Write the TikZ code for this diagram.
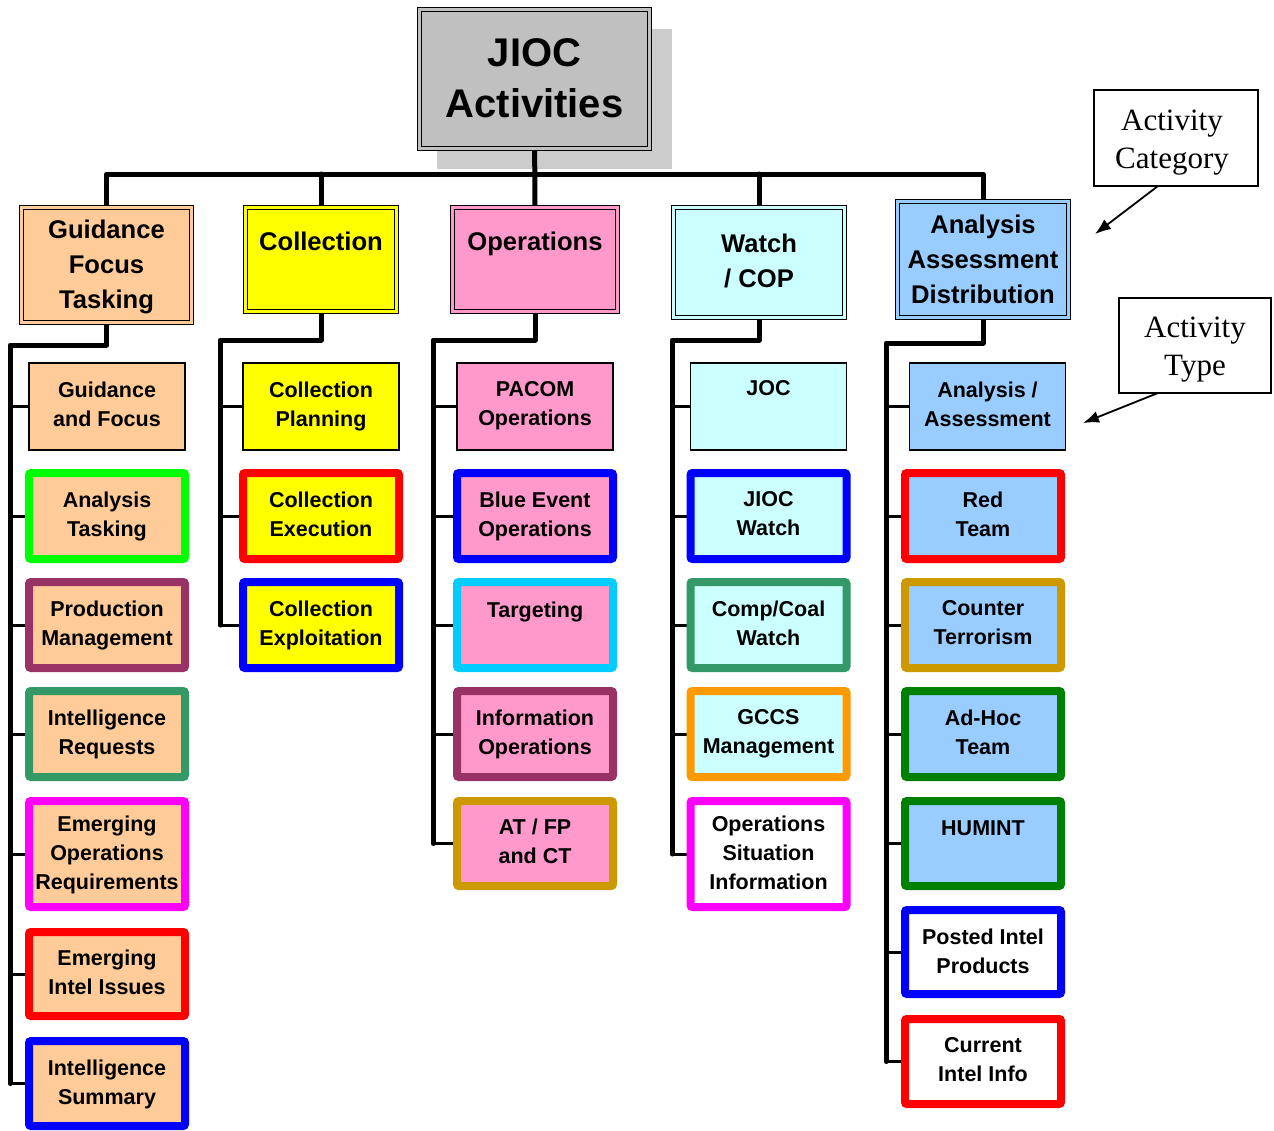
\documentclass[tikz,border=0pt]{standalone}
\usepackage{fontspec}
\setmainfont{Liberation Serif}
\setsansfont{Liberation Sans}
\usetikzlibrary{arrows.meta}
\definecolor{peach}{HTML}{FFCC99}
\definecolor{yel}{HTML}{FFFF00}
\definecolor{pinkf}{HTML}{FF99CC}
\definecolor{cyanl}{HTML}{CCFFFF}
\definecolor{bluel}{HTML}{99CCFF}
\definecolor{topgray}{HTML}{C0C0C0}
\definecolor{shadowgray}{HTML}{CCCCCC}
\definecolor{bgreen}{HTML}{00FF00}
\definecolor{bplum}{HTML}{993366}
\definecolor{bsea}{HTML}{339966}
\definecolor{bmag}{HTML}{FF00FF}
\definecolor{bred}{HTML}{FF0000}
\definecolor{bblue}{HTML}{0000FF}
\definecolor{bsky}{HTML}{00CCFF}
\definecolor{bgold}{HTML}{CC9900}
\definecolor{borange}{HTML}{FF9900}
\definecolor{bdgreen}{HTML}{008000}
\pgfdeclarelayer{bottom}
\pgfdeclarelayer{background}
\pgfsetlayers{bottom,background,main}
\tikzset{
  every node/.style={outer sep=0pt, inner sep=0pt},
  catbox/.style={draw=black, line width=1.2pt, double distance=3pt, rectangle},
  thinbox/.style={draw=black, line width=1.3pt, rectangle},
  thickbox/.style={line width=8pt, rounded corners=2pt, rectangle},
  ktxt/.style={font=\sffamily\bfseries\fontsize{21.5}{29}\selectfont, align=center, anchor=north, execute at begin node=\rule{0pt}{0.8em}},
  ctxt/.style={font=\sffamily\bfseries\fontsize{25.6}{35}\selectfont, align=center, anchor=north, execute at begin node=\rule{0pt}{0.8em}},
  ttxt/.style={font=\sffamily\bfseries\fontsize{40}{51}\selectfont, align=center, anchor=north, execute at begin node=\rule{0pt}{0.8em}},
  callout/.style={draw=black, line width=1.4pt, fill=white},
  otxt/.style={font=\rmfamily\fontsize{31}{38}\selectfont, align=center},
  bus/.style={line width=5pt, line join=round, line cap=round},
  stub/.style={line width=3pt},
  arr/.style={line width=1.8pt, -{Latex[length=16pt,width=12pt]}}
}
\newcommand\kidbox[7]{%
  \node[#5, minimum width=156, minimum height=#4, anchor=north] (#1) at (#2,#3) {};
  \node[ktxt] (#1-t) at ([yshift=-#6pt]#1.north) {#7};}
\begin{document}
\begin{tikzpicture}[x=1pt,y=-1pt]
\useasboundingbox (0,0) rectangle (1274,1130);
% top box
\begin{pgfonlayer}{bottom}
\fill[shadowgray] (437,29) rectangle (672,169);
\end{pgfonlayer}
\node[catbox, fill=topgray, double=topgray, minimum width=229.6, minimum height=138.6] (top) at (534.5,79) {};
\node[ttxt] (top-t) at ([yshift=-28.5pt]top.north) {JIOC\\Activities};
% categories
\node[catbox, fill=peach, double=peach, minimum width=169.6, minimum height=114.6] (cG) at (106.5,265) {};
\node[ctxt] (cG-t) at ([yshift=-12pt]cG.north) {Guidance\\Focus\\Tasking};
\node[catbox, fill=yel, double=yel, minimum width=150.6, minimum height=103.6] (cC) at (321,259.5) {};
\node[ctxt] (cC-t) at ([yshift=-22pt]cC.north) {Collection};
\node[catbox, fill=pinkf, double=pinkf, minimum width=164.6, minimum height=103.6] (cO) at (535,259.5) {};
\node[ctxt] (cO-t) at ([yshift=-22pt]cO.north) {Operations};
\node[catbox, fill=cyanl, double=cyanl, minimum width=170.6, minimum height=109.6] (cW) at (759,262.5) {};
\node[ctxt] (cW-t) at ([yshift=-26pt]cW.north) {Watch\\/ COP};
\node[catbox, fill=bluel, double=bluel, minimum width=170.6, minimum height=115.6] (cA) at (983,259.5) {};
\node[ctxt] (cA-t) at ([yshift=-13pt]cA.north) {Analysis\\Assessment\\Distribution};
% column 1
\kidbox{g1}{107}{363}{87}{thinbox, fill=peach}{18.5}{Guidance\\and Focus}
\kidbox{g2}{107}{473}{86}{thickbox, draw=bgreen, fill=peach}{18.5}{Analysis\\Tasking}
\kidbox{g3}{107}{582}{86}{thickbox, draw=bplum, fill=peach}{18.5}{Production\\Management}
\kidbox{g4}{107}{691}{86}{thickbox, draw=bsea, fill=peach}{18.5}{Intelligence\\Requests}
\kidbox{g5}{107}{801}{106}{thickbox, draw=bmag, fill=peach}{14.5}{Emerging\\Operations\\Requirements}
\kidbox{g6}{107}{932}{84}{thickbox, draw=bred, fill=peach}{17.5}{Emerging\\Intel Issues}
\kidbox{g7}{107}{1041}{85}{thickbox, draw=bblue, fill=peach}{18.5}{Intelligence\\Summary}
% column 2
\kidbox{c1}{321}{363}{87}{thinbox, fill=yel}{18.5}{Collection\\Planning}
\kidbox{c2}{321}{473}{86}{thickbox, draw=bred, fill=yel}{18.5}{Collection\\Execution}
\kidbox{c3}{321}{582}{86}{thickbox, draw=bblue, fill=yel}{18.5}{Collection\\Exploitation}
% column 3
\kidbox{o1}{535}{363}{87}{thinbox, fill=pinkf}{18.5}{PACOM\\Operations}
\kidbox{o2}{535}{473}{86}{thickbox, draw=bblue, fill=pinkf}{18.5}{Blue Event\\Operations}
\kidbox{o3}{535}{582}{86}{thickbox, draw=bsky, fill=pinkf}{18.5}{Targeting}
\kidbox{o4}{535}{691}{86}{thickbox, draw=bplum, fill=pinkf}{18.5}{Information\\Operations}
\kidbox{o5}{535}{801}{85}{thickbox, draw=bgold, fill=pinkf}{17.5}{AT / FP\\and CT}
% column 4
\kidbox{w1}{768.5}{363}{87}{thinbox, fill=cyanl}{15.5}{JOC}
\kidbox{w2}{768.5}{473}{86}{thickbox, draw=bblue, fill=cyanl}{18.5}{JIOC\\Watch}
\kidbox{w3}{768.5}{582}{86}{thickbox, draw=bsea, fill=cyanl}{18.5}{Comp/Coal\\Watch}
\kidbox{w4}{768.5}{691}{86}{thickbox, draw=borange, fill=cyanl}{18.5}{GCCS\\Management}
\kidbox{w5}{768.5}{801}{106}{thickbox, draw=bmag, fill=white}{14.5}{Operations\\Situation\\Information}
% column 5
\kidbox{a1}{987.5}{363}{87}{thinbox, fill=bluel}{18.5}{Analysis /\\Assessment}
\kidbox{a2}{983}{473}{86}{thickbox, draw=bred, fill=bluel}{18.5}{Red\\Team}
\kidbox{a3}{983}{582}{86}{thickbox, draw=bgold, fill=bluel}{18.5}{Counter\\Terrorism}
\kidbox{a4}{983}{691}{86}{thickbox, draw=bdgreen, fill=bluel}{18.5}{Ad-Hoc\\Team}
\kidbox{a5}{983}{801}{85}{thickbox, draw=bdgreen, fill=bluel}{17.5}{HUMINT}
\kidbox{a6}{983}{910}{84}{thickbox, draw=bblue, fill=white}{18.5}{Posted Intel\\Products}
\kidbox{a7}{983}{1019}{85}{thickbox, draw=bred, fill=white}{18.5}{Current\\Intel Info}
% callouts
\node[callout, minimum width=164, minimum height=96] (k1) at (1176,138) {};
\node[otxt] (k1-t) at (1172,143) {Activity\\Category};
\node[callout, minimum width=152, minimum height=95] (k2) at (1195,345.5) {};
\node[otxt] (k2-t) at (1195,350) {Activity\\Type};
\coordinate (k1tip) at (1095,234);
\coordinate (k2tip) at (1083,423);
\draw[arr] ([xshift=-18pt]k1.south) -- (k1tip);
\draw[arr] ([xshift=-37pt]k2.south) -- (k2tip);
% connectors
\coordinate (hub) at (535,174);
\coordinate (gbus) at (10,345);
\coordinate (cbus) at (220,340);
\coordinate (obus) at (433,340);
\coordinate (wbus) at (672,340);
\coordinate (abus) at (886,343);
\begin{pgfonlayer}{background}
\draw[bus] (cG.center) -- (cG.center |- hub) -- (cA.center |- hub) -- (cA.center);
\draw[bus] (cC.center) -- (cC.center |- hub);
\draw[bus] (cW.center) -- (cW.center |- hub);
\draw[bus] (top.center) -- (cO.center);
\draw[bus] (cG.center) -- (cG.center |- gbus) -- (gbus) -- (gbus |- g7.west);
\draw[bus] (cC.center) -- (cC.center |- cbus) -- (cbus) -- (cbus |- c3.west);
\draw[bus] (cO.center) -- (cO.center |- obus) -- (obus) -- (obus |- o5.west);
\draw[bus] (cW.center) -- (cW.center |- wbus) -- (wbus) -- (wbus |- w5.west);
\draw[bus] (cA.center) -- (cA.center |- abus) -- (abus) -- (abus |- a7.west);
\foreach \n in {g1,g2,g3,g4,g5,g6,g7} \draw[stub] (gbus |- \n.west) -- (\n.center);
\foreach \n in {c1,c2,c3} \draw[stub] (cbus |- \n.west) -- (\n.center);
\foreach \n in {o1,o2,o3,o4,o5} \draw[stub] (obus |- \n.west) -- (\n.center);
\foreach \n in {w1,w2,w3,w4,w5} \draw[stub] (wbus |- \n.west) -- (\n.center);
\foreach \n in {a1,a2,a3,a4,a5,a6,a7} \draw[stub] (abus |- \n.west) -- (\n.center);
\end{pgfonlayer}
\end{tikzpicture}
\end{document}
